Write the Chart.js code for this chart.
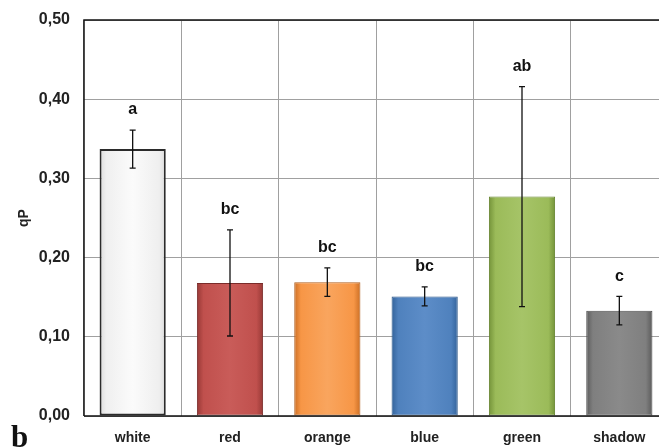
<!DOCTYPE html>
<html>
<head>
<meta charset="utf-8">
<script src="https://cdn.jsdelivr.net/npm/chart.js@4"></script>
<style>
  html, body { margin: 0; padding: 0; background: #fff; overflow: hidden; }
  #wrap { width: 668px; height: 448px; position: relative; }
</style>
</head>
<body>
<div id="wrap"><canvas id="qpChart"></canvas></div>
<script>
// === DATA ===
const categories = ['white', 'red', 'orange', 'blue', 'green', 'shadow'];
const qpMean = [0.337, 0.168, 0.169, 0.151, 0.277, 0.133];
const qpErr = [0.024, 0.067, 0.018, 0.012, 0.139, 0.018];
const groupLetters = ['a', 'bc', 'bc', 'bc', 'ab', 'c'];
const yTicks = [0, 0.1, 0.2, 0.3, 0.4, 0.5];

// colours: [edge, base, highlight]
const barColors = [
    ['#dcdcdc', '#efefef', '#fbfbfb'],
    ['#983936', '#c0504d', '#c95c59'],
    ['#cc6f25', '#f79646', '#f9a55e'],
    ['#33639b', '#4f81bd', '#5d8dc8'],
    ['#75943a', '#9bbb59', '#a6c468'],
    ['#5c5c5c', '#7f7f7f', '#8a8a8a']
];
const borderColors = ['#2b2b2b', '#7a2c2a', '#b05e1e', '#2a5689', '#66842f', '#4d4d4d'];

function barFill(c) {
    const chart = c.chart;
    const xs = chart.scales.x;
    const cols = barColors[c.dataIndex];
    if (!xs) return cols[1];
    const cx = xs.getPixelForValue(c.dataIndex);
    if (!isFinite(cx)) return cols[1];
    const half = 33;
    const g = chart.ctx.createLinearGradient(cx - half, 0, cx + half, 0);
    g.addColorStop(0, cols[0]);
    g.addColorStop(0.1, cols[1]);
    g.addColorStop(0.5, cols[2]);
    g.addColorStop(0.9, cols[1]);
    g.addColorStop(1, cols[0]);
    return g;
}

// error bars, letters, frame, panel tag
const extras = {
    id: 'extras',
    afterDatasetsDraw(chart) {
        const ctx = chart.ctx;
        const xs = chart.scales.x, ys = chart.scales.y;
        const a = chart.chartArea;
        ctx.save();
        // frame
        ctx.strokeStyle = '#111';
        ctx.lineWidth = 1.5;
        ctx.beginPath();
        ctx.moveTo(a.left, a.bottom);
        ctx.lineTo(a.left, a.top);
        ctx.lineTo(a.right, a.top);
        ctx.moveTo(a.left, a.bottom);
        ctx.lineTo(a.right, a.bottom);
        ctx.stroke();

        ctx.lineWidth = 1.3;
        ctx.strokeStyle = '#111';
        ctx.fillStyle = '#111';
        ctx.font = 'bold 16px "Liberation Sans", Arial, sans-serif';
        ctx.textAlign = 'center';
        ctx.textBaseline = 'middle';
        qpMean.forEach((v, i) => {
            const x = xs.getPixelForValue(i);
            const yHi = ys.getPixelForValue(v + qpErr[i]);
            const yLo = ys.getPixelForValue(v - qpErr[i]);
            ctx.beginPath();
            ctx.moveTo(x, yHi); ctx.lineTo(x, yLo);
            ctx.moveTo(x - 3, yHi); ctx.lineTo(x + 3, yHi);
            ctx.moveTo(x - 3, yLo); ctx.lineTo(x + 3, yLo);
            ctx.stroke();
            ctx.fillText(groupLetters[i], x, yHi - 20);
        });

        ctx.font = 'bold 31px "Liberation Serif", "Times New Roman", serif';
        ctx.textAlign = 'left';
        ctx.textBaseline = 'alphabetic';
        ctx.fillText('b', 11, 447);
        ctx.restore();
    }
};

const ctx = document.getElementById('qpChart').getContext('2d');
const qpChart = new Chart(ctx, {
    type: 'bar',
    data: {
        labels: categories,
        datasets: [{
            data: qpMean,
            backgroundColor: barFill,
            borderColor: borderColors,
            borderWidth: (c) => c.dataIndex === 0 ? 2 : 1,
            borderSkipped: false,
            barPercentage: 0.68,
            categoryPercentage: 1
        }]
    },
    options: {
        responsive: true,
        maintainAspectRatio: false,
        animation: false,
        layout: { padding: { top: 20, right: 0, left: 0, bottom: 0 } },
        scales: {
            x: {
                grid: { color: '#a0a0a0', lineWidth: 1, drawTicks: false, offset: true },
                border: { display: false },
                ticks: {
                    color: '#222',
                    padding: 14,
                    font: { family: '"Liberation Sans", Arial, sans-serif', size: 14, weight: 'bold' }
                },
                afterFit(scale) { scale.height = 32; }
            },
            y: {
                min: 0,
                max: 0.5,
                afterBuildTicks(scale) { scale.ticks = yTicks.map(v => ({ value: v })); },
                grid: { color: '#a0a0a0', lineWidth: 1, drawTicks: false },
                border: { display: false },
                ticks: {
                    color: '#222',
                    padding: 14,
                    font: { family: '"Liberation Sans", Arial, sans-serif', size: 16, weight: 'bold' },
                    callback: (v) => Number(v).toFixed(2).replace('.', ',')
                },
                title: {
                    display: true,
                    text: 'qP',
                    color: '#222',
                    padding: { top: 16, bottom: 0 },
                    font: { family: '"Liberation Sans", Arial, sans-serif', size: 14, weight: 'bold' }
                },
                afterFit(scale) {
                    scale.width = 84;
                    scale.paddingTop = 2;
                    scale.paddingBottom = 2;
                }
            }
        },
        plugins: {
            legend: { display: false },
            tooltip: { enabled: false }
        }
    },
    plugins: [extras]
});
</script>
</body>
</html>
